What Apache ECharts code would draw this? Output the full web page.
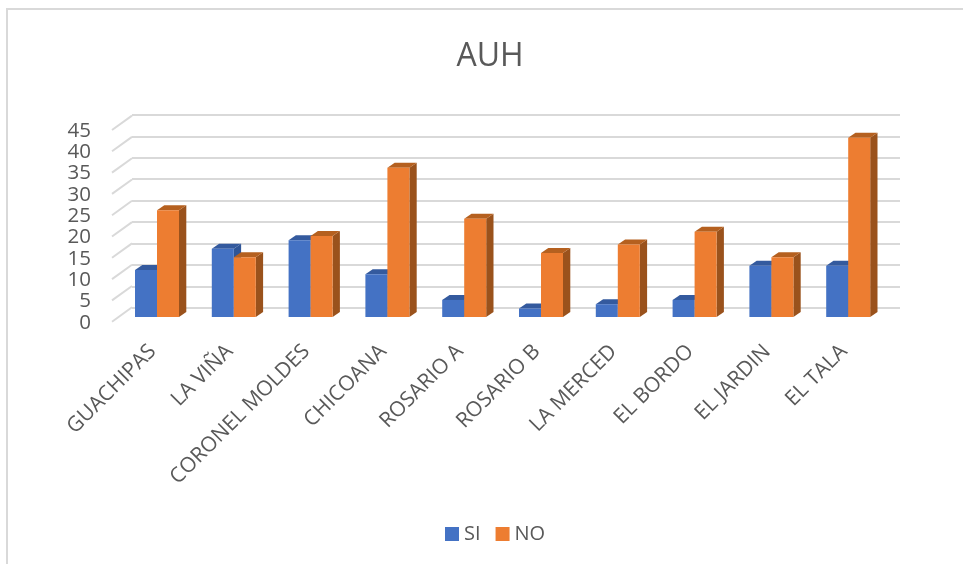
<!DOCTYPE html>
<html><head><meta charset="utf-8">
<style>html,body{margin:0;padding:0;background:#fff}#c{width:963px;height:564px}</style>
<script src="https://cdn.jsdelivr.net/npm/echarts@6/dist/echarts.min.js"></script>
</head><body><div id="c"></div>
<script>
const categories = ['GUACHIPAS','LA VIÑA','CORONEL MOLDES','CHICOANA','ROSARIO A','ROSARIO B','LA MERCED','EL BORDO','EL JARDIN','EL TALA'];
const siValues = [11,16,18,10,4,2,3,4,12,12];
const noValues = [25,14,19,35,23,15,17,20,14,42];
const yTicks = [0,5,10,15,20,25,30,35,40,45];
const title = 'AUH';
const FONT = '"Open Sans", sans-serif';
const TEXT = '#595959';
const DX = 7.3, DY = -5, BAR = 22;

function prism(front, top, side, shift) {
  return function (params, api) {
    const i = api.value(0), v = api.value(1);
    const base = api.coord([i, 0]), head = api.coord([i, v]);
    const x0 = base[0] + shift * BAR, x1 = x0 + BAR, y0 = base[1], y1 = head[1];
    const poly = (pts, fill) => ({type:'polygon', shape:{points:pts}, style:{fill:fill, stroke:null}});
    return {type:'group', children:[
      poly([[x1,y0],[x1+DX,y0+DY],[x1+DX,y1+DY],[x1,y1]], side),
      poly([[x0,y1],[x0+DX,y1+DY],[x1+DX,y1+DY],[x1,y1]], top),
      {type:'rect', shape:{x:x0,y:y1,width:BAR,height:y0-y1}, style:{fill:front}}
    ]};
  };
}

const chart = echarts.init(document.getElementById('c'), null, {renderer:'canvas', width:963, height:564});
chart.setOption({
  animation:false,
  backgroundColor:'#fff',
  title:{text:title, left:490, top:41, padding:0, textAlign:'center', textStyle:{fontFamily:FONT, fontSize:32, fontWeight:'normal', color:TEXT}},
  legend:{data:['SI','NO'], left:445, top:524, padding:0, itemWidth:14, itemHeight:14, itemGap:15, icon:'rect',
    textStyle:{fontFamily:FONT, fontSize:20, color:TEXT, padding:[0,0,0,0]}, selectedMode:false},
  graphic:[{type:'rect', silent:true, z:-1, shape:{x:7,y:9,width:1100,height:700}, style:{fill:'none',stroke:'#d9d9d9',lineWidth:2}}],
  grid:[
    {left:132, right:63, top:115, bottom:256.3},
    {left:112, width:20, top:131, bottom:241.3},
    {left:118.6, width:768, top:125, bottom:247}
  ],
  xAxis:[
    {gridIndex:0, type:'value', min:0, max:1, show:false},
    {gridIndex:1, type:'value', min:0, max:1, show:false},
    {gridIndex:2, type:'category', data:categories, axisLine:{show:false}, axisTick:{show:false},
     axisLabel:{interval:0, rotate:45, margin:27, padding:[0,6,0,0], fontFamily:FONT, fontSize:21, color:TEXT}}
  ],
  yAxis:[
    {gridIndex:0, type:'value', min:0, max:45, interval:5, axisLabel:{show:false}, axisLine:{show:false}, axisTick:{show:false},
     splitLine:{show:true, lineStyle:{color:'#d9d9d9', width:2}}},
    {gridIndex:1, type:'value', min:0, max:45, interval:5, axisLine:{show:false}, axisTick:{show:false}, splitLine:{show:false},
     axisLabel:{margin:21, fontFamily:FONT, fontSize:20.5, color:TEXT}},
    {gridIndex:2, type:'value', min:0, max:45, interval:5, show:false, splitLine:{show:false}}
  ],
  series:[
    {type:'custom', name:'floor', xAxisIndex:1, yAxisIndex:1, silent:true, z:1, data:yTicks.map(t=>[0,t]),
     renderItem:function(p,api){
       const a = api.coord([0,api.value(1)]), b = api.coord([1,api.value(1)]);
       return {type:'line', shape:{x1:a[0],y1:a[1]-1,x2:b[0],y2:b[1]-15.4}, style:{stroke:'#d9d9d9',lineWidth:2}};
     }},
    {type:'custom', name:'SI', xAxisIndex:2, yAxisIndex:2, z:2, itemStyle:{color:'#4472C4'},
     data:siValues.map((v,i)=>[i,v]), encode:{x:0,y:1},
     renderItem:prism('#4472C4','#345A9E','#2F5597',-1)},
    {type:'custom', name:'NO', xAxisIndex:2, yAxisIndex:2, z:3, itemStyle:{color:'#ED7D31'},
     data:noValues.map((v,i)=>[i,v]), encode:{x:0,y:1},
     renderItem:prism('#ED7D31','#B5601F','#9A521C',0)}
  ]
});
</script></body></html>
